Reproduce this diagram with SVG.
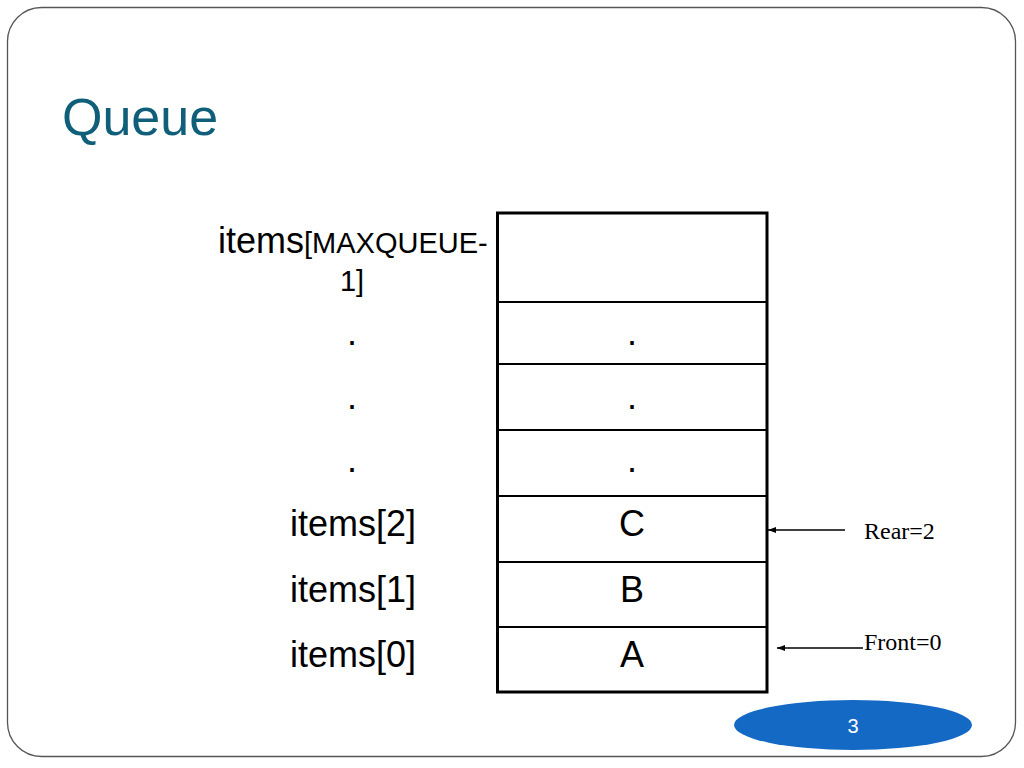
<svg xmlns="http://www.w3.org/2000/svg" width="1024" height="768" viewBox="0 0 1024 768">
<defs>
<style>
.lbl{font-family:"Liberation Sans",Arial,sans-serif;font-size:36px;fill:#000}
.cell{font-family:"Liberation Sans",Arial,sans-serif;font-size:36px;fill:#000;text-anchor:middle}
.ser{font-family:"Liberation Serif","Times New Roman",serif;font-size:24px;fill:#000}
.inner{stroke:#000;stroke-width:2}
.conn{stroke:#000;stroke-width:1.5;fill:none;marker-end:url(#ah)}
</style>
<marker id="ah" viewBox="0 0 10 10" refX="10" refY="5" markerWidth="8" markerHeight="6" markerUnits="userSpaceOnUse" orient="auto" preserveAspectRatio="none">
<path d="M0,0 L10,5 L0,10 z" fill="#000"/>
</marker>
</defs>
<rect x="0" y="0" width="1024" height="768" fill="#fff"/>
<rect x="7.5" y="7.5" width="1008" height="749" rx="34" ry="34" fill="none" stroke="#555" stroke-width="1.3"/>
<text x="62" y="135" font-family="'Liberation Sans',Arial,sans-serif" font-size="52" fill="#0f5e7a">Queue</text>

<g id="queue-table">
<rect x="497.5" y="213" width="269.5" height="479" fill="#fff" stroke="#000" stroke-width="3"/>
<line class="inner" x1="497" y1="302" x2="767" y2="302"/>
<line class="inner" x1="497" y1="364" x2="767" y2="364"/>
<line class="inner" x1="497" y1="430" x2="767" y2="430"/>
<line class="inner" x1="497" y1="496" x2="767" y2="496"/>
<line class="inner" x1="497" y1="562" x2="767" y2="562"/>
<line class="inner" x1="497" y1="627" x2="767" y2="627"/>
</g>

<g id="row-max">
<text x="218" y="253"><tspan class="lbl">items</tspan><tspan font-family="'Liberation Sans',Arial,sans-serif" font-size="29">[MAXQUEUE-</tspan></text>
<text x="352" y="291" font-family="'Liberation Sans',Arial,sans-serif" font-size="29" text-anchor="middle">1]</text>
</g>
<g id="row-dot1">
<text class="cell" x="352" y="345">.</text>
<text class="cell" x="632" y="345">.</text>
</g>
<g id="row-dot2">
<text class="cell" x="352" y="409">.</text>
<text class="cell" x="632" y="409">.</text>
</g>
<g id="row-dot3">
<text class="cell" x="352" y="472">.</text>
<text class="cell" x="632" y="472">.</text>
</g>
<g id="row-2">
<text class="lbl" x="416" y="536" text-anchor="end">items[2]</text>
<text class="cell" x="632" y="536">C</text>
</g>
<g id="row-1">
<text class="lbl" x="416" y="602" text-anchor="end">items[1]</text>
<text class="cell" x="632" y="602">B</text>
</g>
<g id="row-0">
<text class="lbl" x="416" y="667" text-anchor="end">items[0]</text>
<text class="cell" x="632" y="667">A</text>
</g>

<g id="rear-label"><text class="ser" x="864" y="539">Rear=2</text></g>
<g id="front-label"><text class="ser" x="864" y="650">Front=0</text></g>

<g id="connectors">
<line class="conn" x1="845" y1="530" x2="768" y2="530"/>
<line class="conn" x1="863" y1="648" x2="777" y2="648"/>
</g>

<g id="page-number">
<ellipse cx="853" cy="725" rx="119" ry="25" fill="#1469c4"/>
<text x="853" y="733" font-family="'Liberation Sans',Arial,sans-serif" font-size="20" fill="#fff" text-anchor="middle">3</text>
</g>
</svg>
